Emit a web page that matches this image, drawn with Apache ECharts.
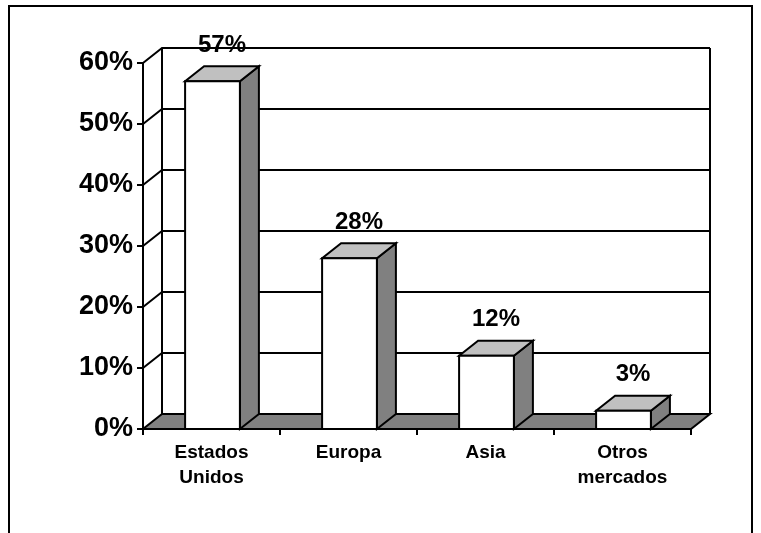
<!DOCTYPE html>
<html>
<head>
<meta charset="utf-8">
<script src="https://cdn.jsdelivr.net/npm/echarts@6/dist/echarts.min.js"></script>
<style>html,body{margin:0;padding:0;background:#fff;}#c{width:761px;height:533px;}</style>
</head>
<body>
<div id="c"></div>
<script>
var categories = ['Estados\nUnidos', 'Europa', 'Asia', 'Otros\nmercados'];
var values = [0.57, 0.28, 0.12, 0.03];
var yTicks = [0, 0.1, 0.2, 0.3, 0.4, 0.5, 0.6];

var DX = 19, DY = -15;
var FONT = '"Liberation Sans", Arial, sans-serif';

function pct(v) { return Math.round(v * 100) + '%'; }

var chart = echarts.init(document.getElementById('c'));
chart.setOption({
  animation: false,
  backgroundColor: '#fff',
  graphic: [{
    type: 'rect', shape: { x: 9, y: 6, width: 743, height: 600 },
    style: { fill: 'none', stroke: '#000', lineWidth: 2 }, z: 0
  }],
  grid: { left: 143, right: 70, top: 63, bottom: 104 },
  xAxis: {
    type: 'category', data: categories, boundaryGap: true,
    axisLine: { show: true, lineStyle: { color: '#000', width: 2 } },
    axisTick: { show: true, length: 6, lineStyle: { color: '#000', width: 2 } },
    axisLabel: { color: '#000', fontSize: 19, fontWeight: 'bold', fontFamily: FONT, lineHeight: 25, margin: 11, interval: 0 },
    splitLine: { show: false }, z: 10
  },
  yAxis: {
    type: 'value', min: 0, max: 0.6, interval: 0.1,
    axisLine: { show: true, lineStyle: { color: '#000', width: 2 } },
    axisTick: { show: true, length: 6, lineStyle: { color: '#000', width: 2 } },
    axisLabel: { color: '#000', fontSize: 27, fontWeight: 'bold', fontFamily: FONT, margin: 10, formatter: pct },
    splitLine: { show: false }, z: 10
  },
  series: [{
    type: 'custom', z: 1, silent: true,
    data: yTicks.map(function (t) { return [0, t]; }),
    renderItem: function (params, api) {
      var cs = params.coordSys;
      var v = api.value(1);
      var y = api.coord([0, v])[1];
      var x0 = cs.x, x1 = cs.x + cs.width;
      var children = [];
      if (v === 0) {
        var yTop = cs.y;
        children.push({ type: 'polygon', shape: { points: [[x0, y], [x1, y], [x1 + DX, y + DY], [x0 + DX, y + DY]] },
          style: { fill: '#808080', stroke: '#000', lineWidth: 2 } });
        children.push({ type: 'line', shape: { x1: x0 + DX, y1: y + DY, x2: x0 + DX, y2: yTop + DY },
          style: { stroke: '#000', lineWidth: 2 } });
        children.push({ type: 'line', shape: { x1: x1 + DX, y1: y + DY, x2: x1 + DX, y2: yTop + DY },
          style: { stroke: '#000', lineWidth: 2 } });
      } else {
        children.push({ type: 'polyline', shape: { points: [[x0, y], [x0 + DX, y + DY], [x1 + DX, y + DY]] },
          style: { stroke: '#000', lineWidth: 2, fill: 'none' } });
      }
      return { type: 'group', children: children };
    }
  }, {
    type: 'custom', z: 2, silent: true,
    data: values.map(function (v, i) { return [i, v]; }),
    renderItem: function (params, api) {
      var i = api.value(0), v = api.value(1);
      var p0 = api.coord([i, 0]);
      var p1 = api.coord([i, v]);
      var w = api.size([1, 0])[0] * 0.4;
      var xl = p0[0] - w / 2 + 1, xr = p0[0] + w / 2 + 1;
      var yb = p0[1], yt = p1[1];
      return { type: 'group', children: [
        { type: 'polygon', shape: { points: [[xr, yt], [xr + DX, yt + DY], [xr + DX, yb + DY], [xr, yb]] },
          style: { fill: '#808080', stroke: '#000', lineWidth: 2 } },
        { type: 'polygon', shape: { points: [[xl, yt], [xr, yt], [xr + DX, yt + DY], [xl + DX, yt + DY]] },
          style: { fill: '#c0c0c0', stroke: '#000', lineWidth: 2 } },
        { type: 'rect', shape: { x: xl, y: yt, width: xr - xl, height: yb - yt },
          style: { fill: '#fff', stroke: '#000', lineWidth: 2 } },
        { type: 'text', x: (xl + xr) / 2 + DX / 2, y: yt + DY - 21,
          style: { text: pct(v), fill: '#000', font: 'bold 24px ' + FONT, textAlign: 'center', textVerticalAlign: 'middle' } }
      ] };
    }
  }]
});
</script>
</body>
</html>
